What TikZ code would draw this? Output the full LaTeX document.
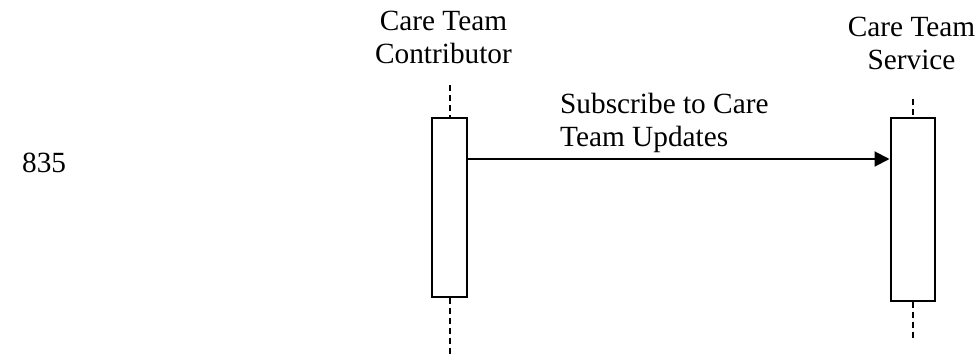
\documentclass[tikz,border=0pt]{standalone}
\usepackage{fontspec}
\setmainfont{Liberation Serif}
\usetikzlibrary{arrows.meta}
\begin{document}
\begin{tikzpicture}[x=1pt,y=-1pt,
  lbl/.style={font=\fontsize{29.3}{33}\selectfont, inner sep=0pt, align=center},
  actbox/.style={draw, line width=2pt, rectangle, inner sep=0pt},
  life/.style={line width=2pt, dash pattern=on 6pt off 4pt},
  msg/.style={line width=2pt, -{Triangle[length=15pt,width=15pt]}}]
\useasboundingbox (0,0) rectangle (977,354);
% labels
\node[lbl, anchor=base] (ctc) at (443.5,63) {Care Team\\Contributor};
\node[lbl, anchor=base] (cts) at (911.5,69) {Care Team\\Service};
\node[lbl, anchor=base west] (num) at (22,172) {835};
% activation boxes
\node[actbox, minimum width=35pt, minimum height=179pt] (cbox) at (449.5,207.5) {};
\node[actbox, minimum width=44pt, minimum height=183pt] (sbox) at (912.5,209) {};
% lifelines
\coordinate (ctop) at (449.5,85);
\coordinate (cbot) at (449.5,354);
\coordinate (stop) at (912.5,99);
\coordinate (sbot) at (912.5,340);
\draw[life] (ctop) -- (cbox.north);
\draw[life] (cbox.south) -- (cbot);
\draw[life] (stop) -- (sbox.north);
\draw[life] (sbox.south) -- (sbot);
% message
\coordinate (my) at (0,159);
\draw[msg] (cbox.east |- my) -- (sbox.west |- my);
\node[lbl, align=left, anchor=base west] (mtext) at (560,146) {Subscribe to Care\\Team Updates};
\end{tikzpicture}
\end{document}
